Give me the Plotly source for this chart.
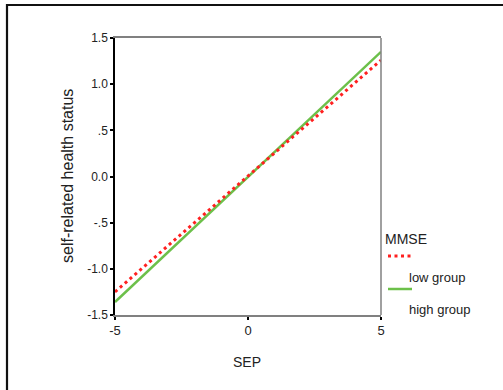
import plotly.graph_objects as go

# Data
sep = [-5, 5]
low_group = [-1.25, 1.26]
high_group = [-1.36, 1.35]
y_tickvals = [1.5, 1.0, 0.5, 0.0, -0.5, -1.0, -1.5]
y_ticktext = ["1.5", "1.0", ".5", "0.0", "-.5", "-1.0", "-1.5"]
x_tickvals = [-5, 0, 5]
x_ticktext = ["-5", "0", "5"]

FONT = "Liberation Sans, Arial, sans-serif"
L, R, T, B = 115, 381, 38, 315
W, H = 503, 390

def px(x):
    return (x - L) / (R - L)

def py(y):
    return (B - y) / (B - T)

fig = go.Figure()
fig.add_trace(go.Scatter(x=sep, y=high_group, mode="lines",
                         line=dict(color="#6cc04a", width=2.5), name="high group",
                         showlegend=False))
fig.add_trace(go.Scatter(x=sep, y=low_group, mode="lines",
                         line=dict(color="#ff2020", width=3, dash="3px,3.5px"), name="low group",
                         showlegend=False))

shapes = [
    # outer frame
    dict(type="rect", xref="paper", yref="paper", x0=px(7), x1=px(560), y0=py(450), y1=py(5),
         line=dict(color="#111", width=2.2), fillcolor="rgba(0,0,0,0)", layer="below"),
    # right border of plot area
    dict(type="line", xref="paper", yref="paper", x0=1, x1=1, y0=0, y1=1,
         line=dict(color="#808080", width=1.5)),
    # legend samples
    dict(type="line", xref="paper", yref="paper", x0=px(388), x1=px(413), y0=py(256), y1=py(256),
         line=dict(color="#ff2020", width=3, dash="3px,3.5px")),
    dict(type="line", xref="paper", yref="paper", x0=px(388), x1=px(412), y0=py(289), y1=py(289),
         line=dict(color="#6cc04a", width=2.5)),
]

annotations = [
    dict(text="MMSE", xref="paper", yref="paper", x=px(383), y=py(239), xanchor="left",
         yanchor="middle", showarrow=False, font=dict(size=14, color="#222")),
    dict(text="low group", xref="paper", yref="paper", x=px(407), y=py(277), xanchor="left",
         yanchor="middle", showarrow=False, font=dict(size=13, color="#222")),
    dict(text="high group", xref="paper", yref="paper", x=px(407), y=py(309), xanchor="left",
         yanchor="middle", showarrow=False, font=dict(size=13, color="#222")),
    dict(text="self-related health status", xref="paper", yref="paper", x=px(67), y=py(176),
         xanchor="center", yanchor="middle", textangle=-90, showarrow=False,
         font=dict(size=16, color="#222")),
    dict(text="SEP", xref="paper", yref="paper", x=px(247), y=py(362), xanchor="center",
         yanchor="middle", showarrow=False, font=dict(size=14, color="#222")),
]

fig.update_layout(
    width=W, height=H,
    margin=dict(l=L, r=W - R, t=T, b=H - B),
    paper_bgcolor="white", plot_bgcolor="white",
    font=dict(family=FONT, size=11, color="#222"),
    shapes=shapes, annotations=annotations, showlegend=False,
    xaxis=dict(range=[-5, 5], tickvals=x_tickvals, ticktext=x_ticktext,
               showgrid=False, zeroline=False, showline=True, linecolor="#808080",
               linewidth=1.5, mirror=True, ticks="outside", ticklen=3, tickwidth=2,
               tickcolor="black", tickfont=dict(size=13)),
    yaxis=dict(range=[-1.5, 1.5], tickvals=y_tickvals, ticktext=y_ticktext,
               showgrid=False, zeroline=False, showline=True, linecolor="black",
               linewidth=1.5, ticks="outside", ticklen=3, tickwidth=2,
               tickcolor="black", tickfont=dict(size=12)),
)

fig.write_html("out.html", config={"displayModeBar": False},
               post_script="document.body.style.margin='0';document.body.style.overflow='hidden';")
